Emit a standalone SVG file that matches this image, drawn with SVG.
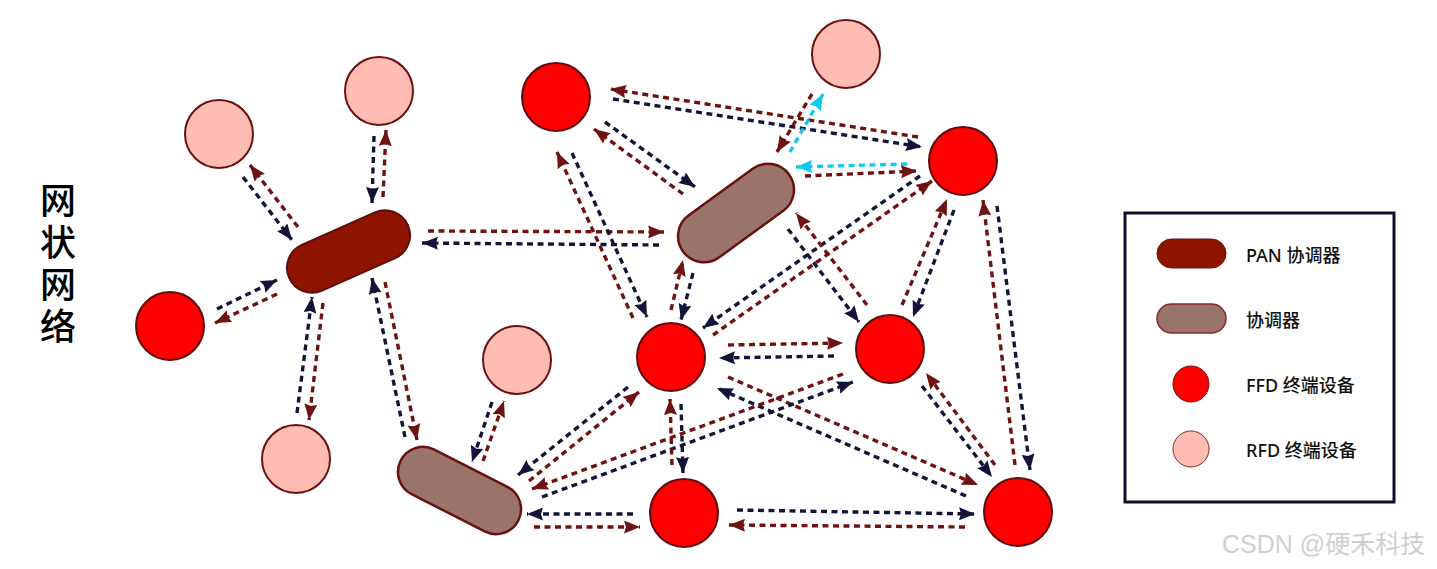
<svg xmlns="http://www.w3.org/2000/svg" width="1437" height="569" viewBox="0 0 1437 569">
<style>
.c{stroke-width:3.4;stroke-dasharray:6 4.5;fill:none}
.n{stroke:#14143a;marker-end:url(#an)}
.m{stroke:#6e1212;marker-end:url(#am)}
.y{stroke:#10c8f2;marker-end:url(#ay)}
.ffd{fill:#ff0000;stroke:#5c0d0d;stroke-width:2}
.rfd{fill:#ffbcb3;stroke:#6b1010;stroke-width:2}
.pan{fill:#8e1400;stroke:#5c0d0d;stroke-width:2}
.co{fill:#9a736b;stroke:#6b1010;stroke-width:2.5}
.lt{font-family:"Noto Sans","Noto Sans CJK SC",sans-serif;font-size:18px;font-weight:500;fill:#111}
</style>
<defs>
<marker id="an" markerUnits="userSpaceOnUse" markerWidth="17" markerHeight="13" refX="16" refY="6.5" orient="auto"><path d="M0,0 L16,6.5 L0,13 L2,6.5 z" fill="#14143a"/></marker>
<marker id="am" markerUnits="userSpaceOnUse" markerWidth="17" markerHeight="13" refX="16" refY="6.5" orient="auto"><path d="M0,0 L16,6.5 L0,13 L2,6.5 z" fill="#6e1212"/></marker>
<marker id="ay" markerUnits="userSpaceOnUse" markerWidth="17" markerHeight="13" refX="16" refY="6.5" orient="auto"><path d="M0,0 L16,6.5 L0,13 L2,6.5 z" fill="#10c8f2"/></marker>
</defs>
<rect width="1437" height="569" fill="#ffffff"/>
<g id="title">
<text x="58" y="182" writing-mode="vertical-rl" font-family="Noto Sans CJK SC, sans-serif" font-size="36" font-weight="500" letter-spacing="6" fill="#000">网状网络</text>
</g>
<g id="connectors">
<line class="c n" x1="243" y1="177" x2="292" y2="240"/>
<line class="c m" x1="298" y1="227" x2="250" y2="165"/>
<line class="c n" x1="374" y1="136" x2="372" y2="203"/>
<line class="c m" x1="383" y1="197" x2="386" y2="130"/>
<line class="c n" x1="217" y1="309" x2="277" y2="280"/>
<line class="c m" x1="277" y1="294" x2="215" y2="323"/>
<line class="c n" x1="297" y1="413" x2="312" y2="297"/>
<line class="c m" x1="323" y1="303" x2="309" y2="420"/>
<line class="c n" x1="405" y1="437" x2="372" y2="278"/>
<line class="c m" x1="385" y1="282" x2="417" y2="440"/>
<line class="c m" x1="428" y1="231" x2="664" y2="232"/>
<line class="c n" x1="659" y1="245" x2="422" y2="243"/>
<line class="c m" x1="918" y1="137" x2="610" y2="89"/>
<line class="c n" x1="613" y1="99" x2="922" y2="147"/>
<line class="c n" x1="605" y1="122" x2="695" y2="187"/>
<line class="c m" x1="683" y1="194" x2="594" y2="129"/>
<line class="c m" x1="812" y1="94" x2="777" y2="152"/>
<line class="c y" x1="790" y1="152" x2="823" y2="94"/>
<line class="c y" x1="907" y1="164" x2="796" y2="167"/>
<line class="c m" x1="805" y1="176" x2="917" y2="171"/>
<line class="c m" x1="633" y1="318" x2="557" y2="152"/>
<line class="c n" x1="572" y1="153" x2="647" y2="317"/>
<line class="c m" x1="671" y1="310" x2="683" y2="260"/>
<line class="c n" x1="693" y1="273" x2="681" y2="320"/>
<line class="c n" x1="920" y1="176" x2="703" y2="328"/>
<line class="c m" x1="713" y1="335" x2="932" y2="181"/>
<line class="c m" x1="867" y1="305" x2="796" y2="213"/>
<line class="c n" x1="788" y1="229" x2="859" y2="322"/>
<line class="c m" x1="902" y1="305" x2="947" y2="199"/>
<line class="c n" x1="954" y1="210" x2="913" y2="317"/>
<line class="c m" x1="1015" y1="465" x2="983" y2="200"/>
<line class="c n" x1="997" y1="206" x2="1030" y2="470"/>
<line class="c m" x1="995" y1="465" x2="926" y2="373"/>
<line class="c n" x1="922" y1="386" x2="992" y2="477"/>
<line class="c m" x1="728" y1="345" x2="843" y2="343"/>
<line class="c n" x1="834" y1="356" x2="719" y2="358"/>
<line class="c m" x1="728" y1="377" x2="978" y2="485"/>
<line class="c n" x1="966" y1="496" x2="717" y2="388"/>
<line class="c m" x1="843" y1="374" x2="532" y2="489"/>
<line class="c n" x1="542" y1="497" x2="853" y2="382"/>
<line class="c n" x1="628" y1="387" x2="518" y2="475"/>
<line class="c m" x1="529" y1="481" x2="639" y2="392"/>
<line class="c m" x1="672" y1="465" x2="670" y2="399"/>
<line class="c n" x1="681" y1="404" x2="683" y2="473"/>
<line class="c n" x1="633" y1="514" x2="527" y2="514"/>
<line class="c m" x1="534" y1="527" x2="640" y2="527"/>
<line class="c n" x1="737" y1="510" x2="975" y2="514"/>
<line class="c m" x1="965" y1="527" x2="729" y2="525"/>
<line class="c n" x1="492" y1="402" x2="472" y2="462"/>
<line class="c m" x1="483" y1="461" x2="504" y2="401"/>
</g>
<g id="pan"><rect class="pan" x="283.5" y="226.5" width="130" height="50" rx="25" transform="rotate(-24 348.5 251.5)"/></g>
<g id="coord1"><rect class="co" x="670.5" y="187" width="131" height="52" rx="26" transform="rotate(-36 736 213)"/></g>
<g id="coord2"><rect class="co" x="393.5" y="465.5" width="132" height="50" rx="25" transform="rotate(27 459.5 490.5)"/></g>
<g id="rfd1"><circle class="rfd" cx="219" cy="134" r="34"/></g>
<g id="rfd2"><circle class="rfd" cx="379" cy="91" r="34"/></g>
<g id="rfd3"><circle class="rfd" cx="296" cy="459" r="34"/></g>
<g id="rfd4"><circle class="rfd" cx="517" cy="360" r="34"/></g>
<g id="rfd5"><circle class="rfd" cx="846" cy="54" r="34"/></g>
<g id="ffd1"><circle class="ffd" cx="170" cy="326" r="34"/></g>
<g id="ffd2"><circle class="ffd" cx="556" cy="97" r="34"/></g>
<g id="ffd3"><circle class="ffd" cx="963" cy="161" r="34"/></g>
<g id="ffd4"><circle class="ffd" cx="671" cy="357" r="34"/></g>
<g id="ffd5"><circle class="ffd" cx="890" cy="349" r="34"/></g>
<g id="ffd6"><circle class="ffd" cx="684" cy="513" r="34"/></g>
<g id="ffd7"><circle class="ffd" cx="1018" cy="512" r="34"/></g>
<g id="legend">
<rect x="1125" y="213" width="269" height="289" fill="#fff" stroke="#0e0e2a" stroke-width="3"/>
<rect x="1157" y="239" width="69" height="29" rx="14.5" fill="#8e1400" stroke="#6b1010" stroke-width="1"/>
<text class="lt" x="1246" y="262">PAN 协调器</text>
<rect x="1157" y="304" width="69" height="29" rx="14.5" fill="#9a736b" stroke="#8a2a2a" stroke-width="1.5"/>
<text class="lt" x="1246" y="327">协调器</text>
<circle cx="1191" cy="384" r="18" fill="#ff0000" stroke="#6b1010" stroke-width="1"/>
<text class="lt" x="1246" y="392">FFD 终端设备</text>
<circle cx="1191" cy="449" r="18" fill="#ffbcb3" stroke="#8a2a2a" stroke-width="1"/>
<text class="lt" x="1246" y="457">RFD 终端设备</text>
</g>
<text x="1222" y="553" font-family="Liberation Sans, Noto Sans CJK SC, sans-serif" font-size="25" fill="#cfcfcf">CSDN @硬禾科技</text>
</svg>
